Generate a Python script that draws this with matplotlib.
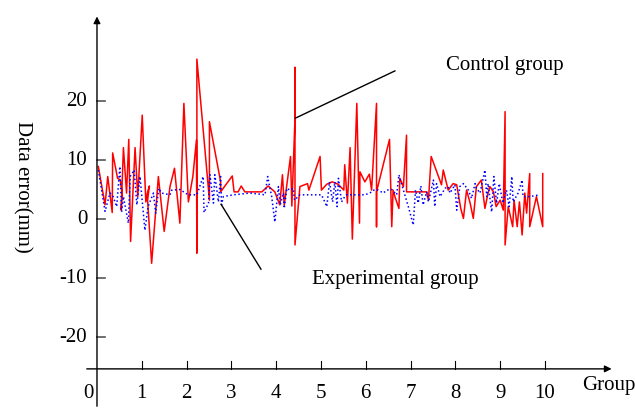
import numpy as np
import matplotlib
matplotlib.use("Agg")
import matplotlib.pyplot as plt

# ===================================== Data
control_x = [0.03, 0.18, 0.24, 0.34, 0.35, 0.46, 0.52, 0.56, 0.54, 0.59, 0.66, 0.71, 0.75,
             0.85, 0.91, 1.01, 1.09, 1.13, 1.17, 1.13, 1.22, 1.37, 1.50, 1.63, 1.73, 1.85,
             1.94, 2.04, 2.14, 2.22, 2.23, 2.23, 2.51, 2.51, 2.76, 2.76, 3.02, 3.06, 3.15,
             3.22, 3.30, 3.45, 3.68, 3.82, 3.97, 4.08, 4.14, 4.18, 4.32, 4.35, 4.42, 4.42,
             4.42, 4.53, 4.70, 4.73, 4.98, 5.01, 5.13, 5.25, 5.38, 5.51, 5.53, 5.59, 5.65,
             5.70, 5.80, 5.86, 5.87, 5.98, 6.08, 6.13, 6.24, 6.24, 6.24, 6.53, 6.58, 6.61,
             6.65, 6.74, 6.76, 6.84, 6.91, 6.91, 7.36, 7.40, 7.46, 7.69, 7.73, 7.84, 7.95,
             8.03, 8.12, 8.18, 8.25, 8.33, 8.40, 8.47, 8.58, 8.66, 8.73, 8.77, 8.85, 8.91,
             9.00, 9.07, 9.11, 9.11, 9.18, 9.28, 9.31, 9.38, 9.43, 9.49, 9.55, 9.59, 9.66,
             9.66, 9.81, 9.95, 9.95]
control_y = [8.9, 2.4, 7.2, 1.1, 11.2, 6.9, 6.6, 4.4, 1.5, 12.1, 4.4, 13.5, -3.8,
             12.1, 3.8, 17.6, 2.9, 4.6, 5.6, 3.2, -7.5, 7.2, -2.1, 5.5, 8.6, -0.7,
             19.6, 2.9, 7.2, 13.4, -5.8, 27.1, 3.2, 16.5, 6.3, 4.6, 7.3, 4.6, 4.6,
             5.6, 4.6, 4.6, 4.6, 5.6, 4.6, 2.4, 7.5, 2.4, 10.6, 2.2, 17.1, 25.7,
             -4.4, 5.5, 6.0, 4.9, 10.6, 4.9, 5.9, 6.3, 5.9, 4.9, 9.2, 2.7, 12.1,
             -3.4, 19.6, -0.7, 8.0, 6.3, 7.6, 4.9, 19.6, -1.3, 4.6, 13.5, -1.3, 4.9,
             3.8, 1.8, 6.9, 5.5, 14.2, 4.6, 4.6, 3.2, 10.6, 5.8, 8.3, 4.9, 6.0,
             5.8, 1.8, 0.1, 4.9, 2.7, 0.1, 5.5, 6.6, 1.8, 4.4, 5.5, 4.6, 2.1,
             3.2, 1.5, 18.2, -4.4, 2.1, -1.3, 3.2, -1.3, 2.9, -2.7, 4.4, 1.0, 7.7,
             -1.3, 3.8, -1.3, 7.7]

exp_x = [0.03, 0.18, 0.29, 0.36, 0.44, 0.51, 0.55, 0.59, 0.70, 0.74, 0.83, 0.89, 0.96,
         1.07, 1.14, 1.26, 1.31, 1.38, 1.44, 1.63, 1.67, 1.85, 2.04, 2.23, 2.37, 2.39,
         2.49, 2.52, 2.60, 2.63, 2.71, 2.76, 2.78, 2.82, 3.04, 3.42, 3.75, 3.81, 3.90,
         3.97, 4.05, 4.09, 4.16, 4.18, 4.24, 4.31, 4.38, 4.41, 4.53, 5.01, 5.05, 5.13,
         5.19, 5.26, 5.31, 5.36, 5.39, 5.46, 5.53, 5.57, 5.98, 6.09, 6.20, 6.28, 6.39,
         6.47, 6.58, 6.69, 6.74, 6.84, 6.95, 7.06, 7.11, 7.17, 7.23, 7.28, 7.36, 7.40,
         7.51, 7.54, 7.58, 7.66, 7.77, 7.84, 7.88, 7.99, 8.03, 8.10, 8.18, 8.29, 8.36,
         8.44, 8.47, 8.55, 8.66, 8.70, 8.73, 8.81, 8.86, 8.92, 8.98, 9.06, 9.14, 9.20,
         9.26, 9.29, 9.40, 9.49, 9.51, 9.66, 9.88]
exp_y = [8.3, 1.3, 4.4, 3.8, 2.1, 8.9, 1.2, 3.8, -0.7, 7.2, 8.3, 2.4, 7.2,
         -1.9, 2.1, 4.4, 1.0, 5.2, 4.4, 4.1, 4.9, 5.0, 4.1, 4.1, 7.2, 1.1,
         2.7, 7.5, 2.7, 7.5, 2.9, 7.2, 2.4, 3.8, 4.1, 4.4, 4.1, 7.2, 3.8,
         -0.5, 5.5, 2.4, 4.4, 1.8, 5.2, 4.9, 5.2, 3.2, 4.1, 4.1, 3.5, 2.1,
         6.3, 2.9, 6.3, 2.1, 6.9, 2.9, 3.8, 4.1, 4.1, 4.4, 5.0, 4.9, 4.4,
         4.9, 5.0, 4.1, 7.5, 4.9, 2.1, -1.0, 4.9, 2.7, 5.6, 2.4, 4.6, 2.9,
         6.6, 2.1, 6.0, 3.8, 5.2, 5.5, 4.4, 5.8, 1.5, 5.5, 6.0, 4.9, 3.5,
         6.0, 5.2, 4.4, 8.3, 3.8, 6.0, 1.2, 7.2, 2.7, 6.0, 2.7, 4.9, 2.1,
         7.2, 2.9, 4.4, 6.6, 3.8, 3.8, 4.1]

x_ticks = [1, 2, 3, 4, 5, 6, 7, 8, 9, 10]
y_ticks = [-20, -10, 0, 10, 20]

# ===================================== Plot
plt.rcParams['font.family'] = ['Liberation Serif', 'DejaVu Serif']

fig = plt.figure(figsize=(6.35, 4.09), dpi=100)
ax = fig.add_axes([0, 0, 1, 1])
ax.set_xlim(-2.165, 12.01)
ax.set_ylim(-32.2, 37.12)
ax.axis('off')

x_axis_y = -25.4

# axes with arrows
ax.annotate('', xy=(0, 34.8), xytext=(0, -32.2),
            arrowprops=dict(arrowstyle='-|>', color='black', lw=1, mutation_scale=10))
ax.annotate('', xy=(11.55, x_axis_y), xytext=(-0.29, x_axis_y),
            arrowprops=dict(arrowstyle='-|>', color='black', lw=1, mutation_scale=10))

for t in x_ticks:
    ax.plot([t, t], [x_axis_y, x_axis_y + 1.4], color='black', lw=0.8)
    ax.text(t, -29.5, str(t), ha='center', va='center', fontsize=15)
ax.text(-0.19, -29.5, '0', ha='center', va='center', fontsize=15)

for t in y_ticks:
    ax.plot([0, 0.19], [t, t], color='#555555', lw=1.2)
    ax.text(-0.22, t, str(t), ha='right', va='center', fontsize=15)

# series
ax.plot(control_x, control_y, color='red', lw=1.1)
ax.plot(exp_x, exp_y, color='blue', lw=1.1, linestyle=':')

# annotation lines
ax.plot([4.43, 6.65], [17.1, 25.1], color='black', lw=1)
ax.plot([2.77, 3.66], [2.5, -8.5], color='black', lw=1)

ax.text(9.11, 26.1, 'Control group', ha='center', va='center', fontsize=15)
ax.text(6.65, -10.3, 'Experimental group', ha='center', va='center', fontsize=15)
ax.text(10.82, -28.3, 'Group', ha='left', va='center', fontsize=15)
ax.text(-1.67, 5.4, 'Data error(mm)', ha='center', va='center', rotation=270, fontsize=15)

plt.savefig('out.png', dpi=100)
